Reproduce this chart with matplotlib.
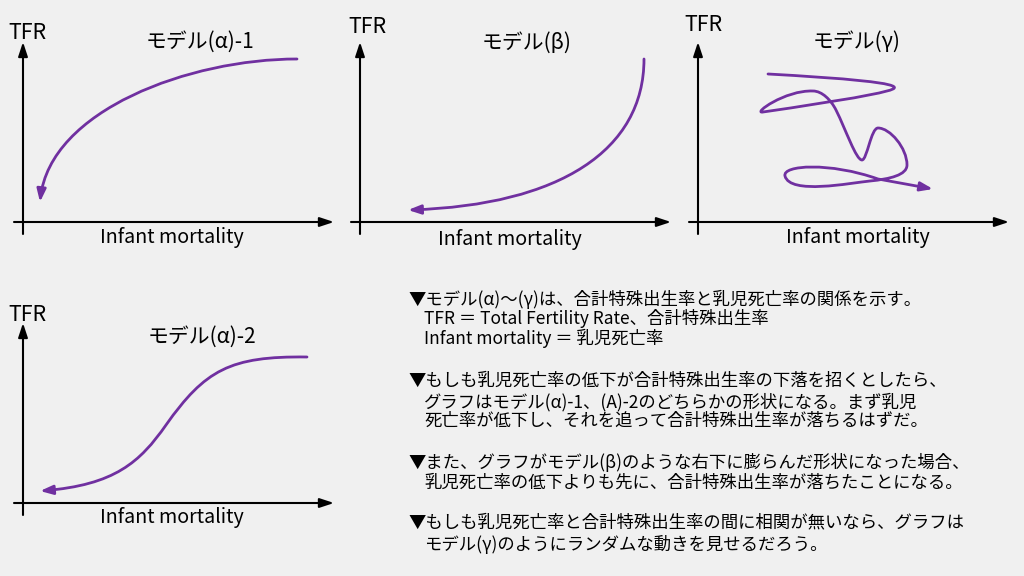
import matplotlib
matplotlib.use('Agg')
import matplotlib.pyplot as plt
from matplotlib.path import Path
from matplotlib.patches import FancyArrowPatch

plt.rcParams['font.family'] = ['Noto Sans CJK JP', 'DejaVu Sans']

BG = '#f0f0f0'
PURPLE = '#7030a0'

titles = ['モデル(α)-1', 'モデル(β)', 'モデル(γ)', 'モデル(α)-2']
x_label = 'Infant mortality'
y_label = 'TFR'

# schematic curves, cubic bezier control points (units: origin at axis corner)
alpha1_x = [274, 167, 27, 17]
alpha1_y = [163, 163, 112, 20]

beta_x = [284, 284, 200, 48]
beta_y = [163, 72, 17, 12]

gamma_x = [70, 142, 207, 195, 183, 92, 65, 54, 87, 115, 124, 133, 138,
           148, 158, 164, 169, 173, 180, 192, 209, 209, 209, 192, 172,
           152, 92, 87, 84, 132, 180, 235]
gamma_y = [148, 144, 139, 133, 127, 114, 110, 108, 132, 131, 131, 122, 112,
           92, 62, 62, 62, 94, 94, 94, 74, 57, 47, 43, 41,
           39, 27, 46, 57, 60, 43, 33]

alpha2_x = [284, 207, 182, 143, 117, 92, 17]
alpha2_y = [146, 147, 133, 78, 41, 18, 12]

# axes corners in pixels (left, top-origin y)
corners = [(23, 222), (360, 222), (698, 222), (23, 503)]

notes = [
    ('▼モデル(α)〜(γ)は、合計特殊出生率と乳児死亡率の関係を示す。', 0, 299),
    ('TFR ＝ Total Fertility Rate、合計特殊出生率', 1, 319),
    ('Infant mortality ＝ 乳児死亡率', 1, 338),
    ('▼もしも乳児死亡率の低下が合計特殊出生率の下落を招くとしたら、', 0, 381),
    ('グラフはモデル(α)-1、(A)-2のどちらかの形状になる。まず乳児', 1, 402),
    ('死亡率が低下し、それを追って合計特殊出生率が落ちるはずだ。', 1, 421),
    ('▼また、グラフがモデル(β)のような右下に膨らんだ形状になった場合、', 0, 462),
    ('乳児死亡率の低下よりも先に、合計特殊出生率が落ちたことになる。', 1, 483),
    ('▼もしも乳児死亡率と合計特殊出生率の間に相関が無いなら、グラフは', 0, 522),
    ('モデル(γ)のようにランダムな動きを見せるだろう。', 1, 544),
]


def bezier_path(xs, ys, last_line=False):
    n = len(xs)
    codes = [Path.MOVETO] + [Path.CURVE4] * (n - 1)
    if last_line:
        codes[-1] = Path.LINETO
    return Path(list(zip(xs, ys)), codes)


def draw_panel(ax, title, tfr_pos, title_pos, xl_pos):
    ax.set_xlim(0, 311)
    ax.set_ylim(0, 180)
    ax.axis('off')
    style = '-|>,head_length=0.85,head_width=0.28'
    ax.add_patch(FancyArrowPatch((-9, 0), (311, 0), arrowstyle=style,
                                 mutation_scale=10, color='black', lw=1.5,
                                 shrinkA=0, shrinkB=0, clip_on=False))
    ax.add_patch(FancyArrowPatch((0, -12), (0, 180), arrowstyle=style,
                                 mutation_scale=10, color='black', lw=1.5,
                                 shrinkA=0, shrinkB=0, clip_on=False))
    ax.text(*tfr_pos, y_label, fontsize=15.5, ha='center', va='center')
    ax.text(*title_pos, title, fontsize=15, ha='center', va='center')
    ax.text(*xl_pos, x_label, fontsize=14.2, ha='center', va='center')


def draw_curve(ax, path):
    ax.add_patch(FancyArrowPatch(path=path,
                                 arrowstyle='-|>,head_length=0.75,head_width=0.27',
                                 mutation_scale=10, color=PURPLE, lw=2,
                                 clip_on=False))


fig = plt.figure(figsize=(10.24, 5.76), dpi=100, facecolor=BG)
axes = []
for x0, y0 in corners:
    axes.append(fig.add_axes([x0 / 1024, (576 - y0) / 576, 311 / 1024, 180 / 576]))

draw_panel(axes[0], titles[0], (4, 189), (177, 180), (149, -16))
draw_panel(axes[1], titles[1], (7, 195), (167, 179), (150, -18))
draw_panel(axes[2], titles[2], (5, 197), (159, 180), (160, -16))
draw_panel(axes[3], titles[3], (4, 188), (179, 166), (149, -15))

draw_curve(axes[0], bezier_path(alpha1_x, alpha1_y))
draw_curve(axes[1], bezier_path(beta_x, beta_y))
draw_curve(axes[2], bezier_path(gamma_x, gamma_y, last_line=True))
draw_curve(axes[3], bezier_path(alpha2_x, alpha2_y))

for txt, indent, y in notes:
    x = 408 if indent == 0 else 424
    fig.text(x / 1024, 1 - y / 576, txt, fontsize=12.5, ha='left', va='center')

fig.savefig('out.png', dpi=100, facecolor=BG)
